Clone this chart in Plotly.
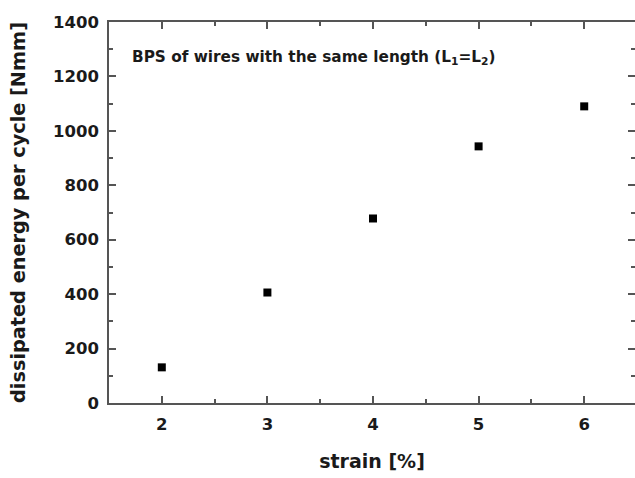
import plotly.graph_objects as go

# Dissipated energy per cycle vs. applied strain
strain = [2, 3, 4, 5, 6]
energy = [131, 406, 678, 943, 1090]

x_ticks = [2, 3, 4, 5, 6]
y_ticks = [0, 200, 400, 600, 800, 1000, 1200, 1400]

FONT = "DejaVu Sans"
AXIS_COLOR = "#555555"
TEXT_COLOR = "#1a1a1a"

fig = go.Figure()
fig.add_trace(go.Scatter(
    x=strain, y=energy, mode="markers",
    marker=dict(symbol="square", size=8, color="black"),
    showlegend=False,
))
# invisible trace so the right-hand tick axis is drawn
fig.add_trace(go.Scatter(x=[strain[0]], y=[energy[0]], yaxis="y2",
                         mode="markers", marker=dict(opacity=0),
                         showlegend=False, hoverinfo="skip"))

common_tick = dict(ticks="inside", ticklen=7, tickwidth=1.5, tickcolor=AXIS_COLOR)

fig.update_layout(
    width=635, height=478,
    margin=dict(l=109, r=0, t=22, b=75),
    paper_bgcolor="white", plot_bgcolor="white",
    font=dict(family=FONT, color=TEXT_COLOR),
    xaxis=dict(
        range=[1.5, 6.481], tickvals=x_ticks, ticktext=[str(v) for v in x_ticks],
        showline=True, linecolor=AXIS_COLOR, linewidth=1.5, mirror="ticks",
        showgrid=False, zeroline=False, ticklabelstandoff=5,
        tickfont=dict(family=FONT, size=16.5, color=TEXT_COLOR, weight="bold"),
        minor=dict(ticks="inside", ticklen=4, tickwidth=1.5, tickcolor=AXIS_COLOR, dtick=0.5, showgrid=False),
        title=dict(text="strain [%]", font=dict(family=FONT, size=19, color=TEXT_COLOR, weight="bold"), standoff=22),
        **common_tick,
    ),
    yaxis=dict(
        range=[0, 1400], tickvals=y_ticks, ticktext=[str(v) for v in y_ticks],
        showline=True, linecolor=AXIS_COLOR, linewidth=1.5,
        showgrid=False, zeroline=False, ticklabelstandoff=5,
        tickfont=dict(family=FONT, size=16.5, color=TEXT_COLOR, weight="bold"),
        minor=dict(ticks="inside", ticklen=4, tickwidth=1.5, tickcolor=AXIS_COLOR, dtick=100, showgrid=False),
        title=dict(text="dissipated energy per cycle [Nmm]", font=dict(family=FONT, size=19.3, color=TEXT_COLOR, weight="bold"), standoff=22),
        **common_tick,
    ),
    yaxis2=dict(
        overlaying="y", side="right", range=[0, 1400], tickvals=y_ticks,
        showticklabels=False, showline=False, showgrid=False, zeroline=False,
        minor=dict(ticks="inside", ticklen=4, tickwidth=1.5, tickcolor=AXIS_COLOR, dtick=100, showgrid=False),
        **common_tick,
    ),
)

fig.add_annotation(
    x=0.04, y=0.905, xref="paper", yref="paper", xanchor="left", yanchor="middle",
    text="BPS of wires with the same length (L<sub>1</sub>=L<sub>2</sub>)",
    showarrow=False, font=dict(family=FONT, size=15.3, color=TEXT_COLOR, weight="bold"),
)

fig.write_html("out.html")
